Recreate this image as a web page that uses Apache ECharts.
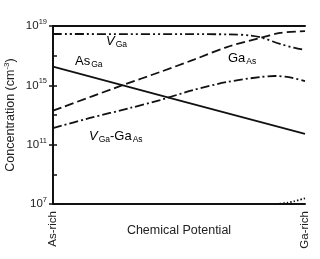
<!DOCTYPE html>
<html><head><meta charset="utf-8">
<script src="https://cdn.jsdelivr.net/npm/echarts@6/dist/echarts.min.js"></script>
<style>html,body{margin:0;padding:0;background:#fff}#c{width:320px;height:259px}</style>
</head><body><div id="c"></div>
<script>
// x: chemical potential fraction (0 = As-rich, 1 = Ga-rich); y: log10 concentration
const vGaX = [0, 0.70, 0.786, 0.833, 0.901, 0.960, 1];
const vGaY = [18.46, 18.44, 18.35, 18.19, 17.79, 17.52, 17.38];
const gaAsX = [0, 0.278, 0.425, 0.556, 0.690, 0.821, 0.901, 1];
const gaAsY = [13.29, 15.02, 15.90, 16.71, 17.58, 18.19, 18.53, 18.66];
const asGaX = [0, 0.5, 1];
const asGaY = [16.26, 13.99, 11.72];
const cplxX = [0, 0.147, 0.306, 0.425, 0.556, 0.690, 0.821, 0.881, 0.940, 1];
const cplxY = [12.12, 12.80, 13.47, 14.01, 14.68, 15.22, 15.56, 15.63, 15.53, 15.29];
const dotX = [0.9, 0.929, 0.956, 1];
const dotY = [7.02, 7.08, 7.18, 7.38];
const yTickLabels = [7, 11, 15, 19];
const xLabels = ['As-rich', 'Ga-rich'];

const zip = (a, b) => a.map((v, i) => [v, b[i]]);
const FF = '"Liberation Sans", Arial, sans-serif';
const TC = '#222';
const chart = echarts.init(document.getElementById('c'), null, {renderer: 'canvas'});
const line = (data, type, smooth) => ({
  type: 'line', data, showSymbol: false, smooth: smooth, clip: true,
  lineStyle: {color: '#111', width: 1.8, type: type}, animation: false
});
chart.setOption({
  animation: false,
  grid: {left: 53, right: 15, top: 26, bottom: 55, containLabel: false, outerBoundsMode: 'none'},
  xAxis: [{
    type: 'value', min: 0, max: 1, interval: 1, position: 'bottom',
    name: 'Chemical Potential', nameLocation: 'middle', nameGap: 20, nameMoveOverlap: false,
    nameTextStyle: {fontFamily: FF, fontSize: 12.5, color: TC},
    axisLine: {show: true, lineStyle: {color: '#111', width: 2}},
    axisTick: {show: false}, splitLine: {show: false},
    axisLabel: {rotate: 90, margin: 7, fontFamily: FF, fontSize: 11.5, color: TC,
      formatter: v => v === 0 ? xLabels[0] : (v === 1 ? xLabels[1] : '')}
  }, {
    type: 'value', min: 0, max: 1, position: 'top',
    axisLine: {show: true, lineStyle: {color: '#111', width: 2}},
    axisTick: {show: false}, axisLabel: {show: false}, splitLine: {show: false}
  }],
  yAxis: [{
    type: 'value', min: 7, max: 19, interval: 2, position: 'left',
    name: 'Concentration (cm{s|-3})', nameLocation: 'middle', nameGap: 35, nameRotate: 90,
    nameMoveOverlap: false,
    nameTextStyle: {fontFamily: FF, fontSize: 12.5, color: TC,
      rich: {s: {fontFamily: FF, fontSize: 8, color: TC, verticalAlign: 'top', padding:[0,0,7,0]}}},
    axisLine: {show: true, lineStyle: {color: '#111', width: 2}},
    axisTick: {show: true, inside: true, length: 4, lineStyle: {color: '#111', width: 1.5}},
    splitLine: {show: false},
    axisLabel: {margin: 6, fontFamily: FF, fontSize: 11.5, color: TC,
      formatter: v => yTickLabels.includes(v) ? '{b|10}{s|' + v + '}' : '',
      rich: {b: {fontFamily: FF, fontSize: 11.5, color: TC},
             s: {fontFamily: FF, fontSize: 7.5, color: TC, padding: [0, 0, 8, 0]}}}
  }, {
    type: 'value', min: 7, max: 19, interval: 4, position: 'right',
    axisLine: {show: true, lineStyle: {color: '#111', width: 2}},
    axisTick: {show: true, inside: true, length: 4, lineStyle: {color: '#111', width: 1.5}},
    axisLabel: {show: false}, splitLine: {show: false}
  }],
  series: [
    line(zip(vGaX, vGaY), [9, 3, 2, 3, 2, 3], 0.3),
    line(zip(gaAsX, gaAsY), [9, 4], 0.3),
    line(zip(asGaX, asGaY), 'solid', false),
    line(zip(cplxX, cplxY), [9, 3, 2, 3], 0.3),
    line(zip(dotX, dotY), [1.5, 2], 0.3)
  ],
  graphic: [
    {type: 'text', left: 106, top: 35, style: {text: '{v|V}{s|Ga}', rich: {
      v: {fontFamily: FF, fontSize: 13, fontStyle: 'italic', color: TC},
      s: {fontFamily: FF, fontSize: 8.5, color: TC, padding: [6, 0, 0, 1]}}}},
    {type: 'text', left: 75, top: 55, style: {text: '{v|As}{s|Ga}', rich: {
      v: {fontFamily: FF, fontSize: 13, color: TC},
      s: {fontFamily: FF, fontSize: 8.5, color: TC, padding: [6, 0, 0, 1]}}}},
    {type: 'text', left: 228, top: 52, style: {text: '{v|Ga}{s|As}', rich: {
      v: {fontFamily: FF, fontSize: 13, color: TC},
      s: {fontFamily: FF, fontSize: 8.5, color: TC, padding: [6, 0, 0, 1]}}}},
    {type: 'text', left: 89, top: 130, style: {text: '{v|V}{s|Ga}{t|-Ga}{s|As}', rich: {
      v: {fontFamily: FF, fontSize: 13, fontStyle: 'italic', color: TC},
      t: {fontFamily: FF, fontSize: 13, color: TC},
      s: {fontFamily: FF, fontSize: 8.5, color: TC, padding: [6, 0, 0, 1]}}}}
  ]
});
</script></body></html>
